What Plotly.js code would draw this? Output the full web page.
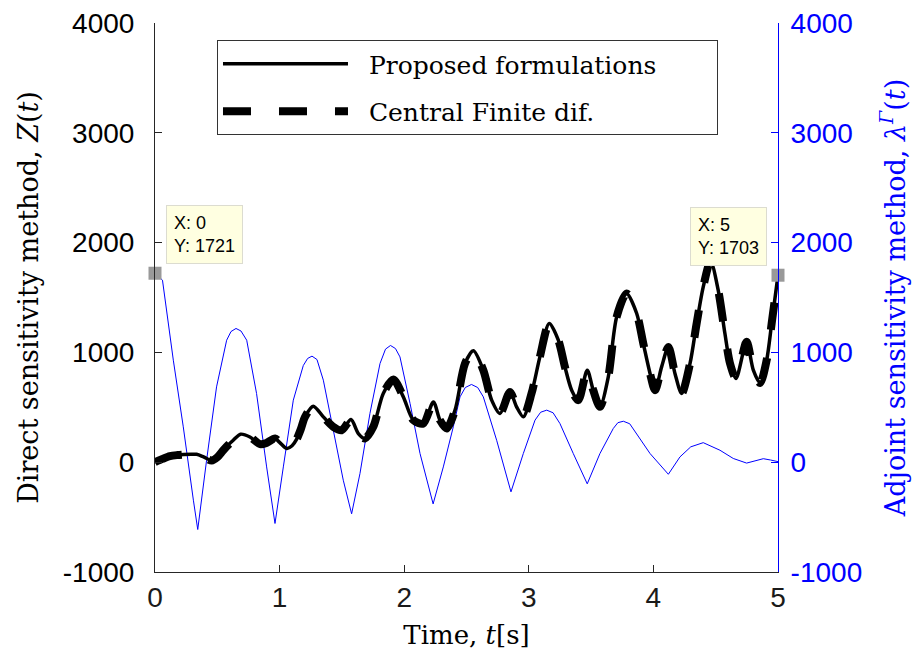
<!DOCTYPE html>
<html>
<head>
<meta charset="utf-8">
<script src="https://cdn.plot.ly/plotly-3.0.1.min.js"></script>
<style>html,body{margin:0;padding:0;background:#fff;}#chart{width:922px;height:662px;}</style>
</head>
<body>
<div id="chart"></div>
<script>
// Direct sensitivity method Z(t)
var tZ = [0, 0.06, 0.12, 0.18, 0.23, 0.29, 0.334, 0.39, 0.455, 0.5, 0.548, 0.59, 0.628, 0.687, 0.762, 0.843, 0.896, 0.963, 1.0, 1.057, 1.1, 1.137, 1.17, 1.204, 1.27, 1.351, 1.431, 1.498, 1.573, 1.632, 1.685, 1.752, 1.832, 1.913, 1.993, 2.073, 2.153, 2.234, 2.287, 2.341, 2.408, 2.488, 2.555, 2.635, 2.702, 2.769, 2.849, 2.902, 2.956, 3.022, 3.089, 3.164, 3.237, 3.29, 3.344, 3.397, 3.469, 3.517, 3.571, 3.638, 3.705, 3.785, 3.866, 3.919, 3.973, 4.013, 4.066, 4.12, 4.173, 4.227, 4.294, 4.347, 4.4, 4.459, 4.52, 4.574, 4.615, 4.663, 4.748, 4.802, 4.856, 4.909, 4.949, 5.0];
var zDirect = [0, 30, 55, 65, 70, 73, 72, 48, 15, 45, 109, 160, 200, 255, 230, 164, 176, 216, 180, 125, 150, 210, 300, 413, 510, 413, 322, 291, 389, 261, 216, 322, 626, 753, 595, 383, 352, 549, 383, 307, 474, 899, 1015, 838, 565, 443, 640, 504, 413, 626, 959, 1263, 1111, 868, 656, 565, 838, 656, 504, 777, 1323, 1536, 1354, 1081, 808, 656, 868, 1050, 808, 626, 899, 1263, 1597, 1830, 1567, 1172, 899, 762, 1096, 838, 722, 929, 1263, 1703];
// Central finite difference (coincides with the proposed formulation)
var zFiniteDif = zDirect.slice();
// Adjoint sensitivity method lambda^Gamma(t)
var tL = [0, 0.06, 0.147, 0.227, 0.308, 0.343, 0.414, 0.494, 0.575, 0.61, 0.65, 0.69, 0.736, 0.815, 0.896, 0.963, 1.03, 1.11, 1.19, 1.225, 1.26, 1.30, 1.351, 1.431, 1.511, 1.578, 1.645, 1.725, 1.806, 1.85, 1.89, 1.93, 1.966, 2.047, 2.127, 2.232, 2.314, 2.394, 2.448, 2.49, 2.54, 2.59, 2.635, 2.742, 2.857, 2.956, 3.05, 3.095, 3.144, 3.195, 3.25, 3.357, 3.469, 3.571, 3.678, 3.715, 3.759, 3.81, 3.866, 3.973, 4.12, 4.213, 4.3, 4.4, 4.534, 4.641, 4.748, 4.815, 4.882, 4.94, 5.0];
var lambda = [1721, 1658, 929, 322, -346, -613, 18, 686, 1111, 1190, 1218, 1195, 1111, 626, -43, -558, -43, 565, 880, 945, 966, 935, 747, 291, -164, -470, -103, 444, 899, 1030, 1063, 1035, 959, 535, 79, -380, -43, 322, 595, 680, 708, 680, 595, 200, -270, 79, 383, 455, 474, 450, 352, 79, -197, 79, 307, 360, 373, 350, 261, 79, -110, 48, 140, 178, 109, 34, -8, 15, 32, 20, 5];
var xTicks = [0, 1, 2, 3, 4, 5];
var yTicks = [-1000, 0, 1000, 2000, 3000, 4000];
var seriesNames = ['Proposed formulations', 'Central Finite dif.'];

var NB = '\u00a0';
function legendLabel(s) { return NB + NB + s + NB.repeat(7); }
var lastZ = zDirect.length - 1;
var serif = 'DejaVu Serif, Liberation Serif, serif';
var sans = 'Liberation Sans, Arial, sans-serif';
var traces = [
  {x: tL, y: lambda, type: 'scatter', mode: 'lines', yaxis: 'y', showlegend: false,
   line: {color: '#0000FF', width: 1}},
  {x: tZ, y: zFiniteDif, type: 'scatter', mode: 'lines', yaxis: 'y2', name: legendLabel(seriesNames[1]),
   legendgroup: 'b', legendrank: 2,
   line: {color: '#000000', width: 8, dash: '28px,28px', shape: 'spline', smoothing: 0.8}},
  {x: tZ, y: zDirect, type: 'scatter', mode: 'lines', yaxis: 'y2', name: legendLabel(seriesNames[0]),
   legendgroup: 'a', legendrank: 1,
   line: {color: '#000000', width: 3.5, shape: 'spline', smoothing: 0.8}},
  {x: [tL[0]], y: [lambda[0]], type: 'scatter', mode: 'markers', yaxis: 'y2', showlegend: false,
   cliponaxis: false, marker: {symbol: 'square', size: 13, color: '#999999'}},
  {x: [tZ[lastZ]], y: [zDirect[lastZ]], type: 'scatter', mode: 'markers', yaxis: 'y2', showlegend: false,
   cliponaxis: false, marker: {symbol: 'square', size: 13, color: '#999999'}}
];

var tipFont = {family: sans, size: 18, color: '#000'};
var layout = {
  width: 922, height: 662,
  margin: {l: 155, r: 144, t: 23, b: 90, pad: 0},
  paper_bgcolor: '#fff', plot_bgcolor: '#fff',
  showlegend: true,
  legend: {
    x: 0.0995, y: 0.969, xanchor: 'left', yanchor: 'top',
    bgcolor: '#fff', bordercolor: '#333', borderwidth: 1,
    font: {family: serif, size: 25, color: '#000'},
    itemwidth: 125, traceorder: 'grouped', tracegroupgap: 12
  },
  xaxis: {
    range: [0, 5], tickvals: xTicks, ticktext: xTicks.map(String),
    ticks: 'inside', ticklen: 7, tickcolor: '#262626', showline: true, linecolor: '#262626', linewidth: 1,
    showgrid: false, zeroline: false, mirror: false,
    tickfont: {family: sans, size: 28, color: '#1a1a1a'},
    title: {text: 'Time, <i>t</i>[s]', font: {family: serif, size: 26, color: '#000'}, standoff: 14}
  },
  yaxis: {
    range: [-1000, 4000], side: 'right', tickvals: yTicks, ticktext: yTicks.map(String),
    ticks: 'inside', ticklen: 7, tickcolor: '#0000FF', showline: true, linecolor: '#0000FF', linewidth: 1,
    showgrid: false, zeroline: false, anchor: 'x', ticklabelstandoff: 6,
    tickfont: {family: sans, size: 28, color: '#0000FF'},
    title: {text: 'Adjoint sensitivity method, <i>λ</i><sup><i>Γ</i></sup>(<i>t</i>)', font: {family: serif, size: 27, color: '#0000FF'}, standoff: 24}
  },
  yaxis2: {
    range: [-1000, 4000], side: 'left', overlaying: 'y', anchor: 'x', tickvals: yTicks, ticktext: yTicks.map(String),
    ticks: 'inside', ticklen: 7, tickcolor: '#262626', showline: true, linecolor: '#262626', linewidth: 1,
    showgrid: false, zeroline: false, ticklabelstandoff: 14,
    tickfont: {family: sans, size: 28, color: '#000'},
    title: {text: 'Direct sensitivity method, <i>Z</i>(<i>t</i>)', font: {family: serif, size: 27, color: '#000'}, standoff: 16}
  },
  annotations: [
    {x: tL[0], y: lambda[0], xref: 'x', yref: 'y2', showarrow: false,
     xanchor: 'left', yanchor: 'bottom', xshift: 11, yshift: 9, align: 'left',
     text: 'X: ' + tL[0] + '<br>Y: ' + lambda[0], font: tipFont,
     bgcolor: '#FFFFE1', bordercolor: '#DCDCD0', borderwidth: 1, borderpad: 7},
    {x: tZ[lastZ], y: zDirect[lastZ], xref: 'x', yref: 'y2', showarrow: false,
     xanchor: 'right', yanchor: 'bottom', xshift: -11, yshift: 9, align: 'left',
     text: 'X: ' + tZ[lastZ] + '<br>Y: ' + zDirect[lastZ], font: tipFont,
     bgcolor: '#FFFFE1', bordercolor: '#DCDCD0', borderwidth: 1, borderpad: 7}
  ]
};
Plotly.newPlot('chart', traces, layout, {displayModeBar: false, staticPlot: true});
</script>
</body>
</html>
